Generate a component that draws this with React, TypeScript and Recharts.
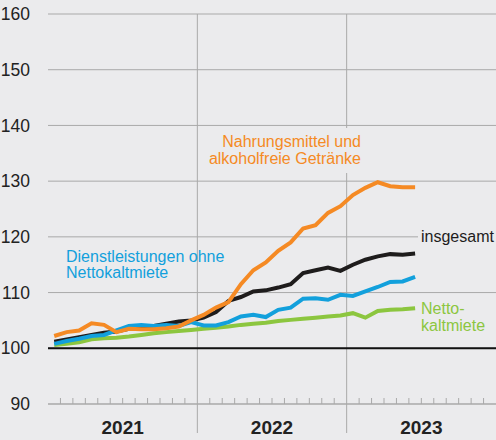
import { CartesianGrid, Line, LineChart, ReferenceLine, XAxis, YAxis } from "recharts";

const YEARS = ["2021", "2022", "2023"];
const Y_TICKS = [90, 100, 110, 120, 130, 140, 150, 160];

// monthly index values, Jan 2021 .. Jun 2023
const FOOD = [102.2, 102.9, 103.2, 104.5, 104.2, 102.9, 103.5, 103.4, 103.4, 103.6, 103.9, 105.0, 106.0, 107.3, 108.3, 111.5, 114.0, 115.4, 117.5, 119.0, 121.5, 122.1, 124.3, 125.5, 127.5, 128.8, 129.8, 129.1, 128.9, 128.9];
const TOTAL = [101.2, 101.6, 102.0, 102.4, 102.8, 103.0, 103.5, 103.8, 104.0, 104.4, 104.8, 105.0, 105.5, 106.5, 108.5, 109.2, 110.2, 110.4, 110.9, 111.5, 113.5, 114.0, 114.5, 113.9, 115.0, 115.9, 116.5, 116.9, 116.8, 117.0];
const SERVICES = [100.8, 101.3, 101.7, 102.2, 102.4, 103.2, 104.0, 104.2, 104.0, 104.2, 104.0, 104.7, 104.1, 104.1, 104.7, 105.7, 106.0, 105.6, 106.9, 107.3, 108.9, 109.0, 108.7, 109.6, 109.4, 110.2, 111.0, 111.9, 112.0, 112.8];
const RENT = [100.6, 100.8, 101.1, 101.6, 101.8, 101.9, 102.1, 102.4, 102.7, 102.9, 103.1, 103.3, 103.5, 103.7, 103.9, 104.2, 104.4, 104.6, 104.9, 105.1, 105.3, 105.5, 105.7, 105.9, 106.3, 105.5, 106.7, 106.9, 107.0, 107.2];

const data = FOOD.map((v, i) => ({
  x: i + 0.5,
  food: v,
  total: TOTAL[i],
  services: SERVICES[i],
  rent: RENT[i],
}));

const monthTicks = Array.from({ length: 35 }, (_, i) => i + 1);

const BG = "#ebebed";
const GRID = "#a9a9a9";
const ORANGE = "#f58a24";
const BLACK = "#1e1c1c";
const BLUE = "#12a0dc";
const GREEN = "#8cc63f";
const FONT = "'Liberation Sans', Arial, sans-serif";

function MonthTick({ x, y, payload }: any) {
  const v = payload.value;
  if (v % 12 === 0) {
    return <line x1={x} x2={x} y1={y} y2={y + 29} stroke={GRID} />;
  }
  return (
    <g>
      <line x1={x} x2={x} y1={y} y2={y - 6} stroke={GRID} />
      {v % 12 === 6 && (
        <text x={x} y={y + 30} textAnchor="middle" fontSize={19} fontWeight="bold" fill="#222" fontFamily={FONT}>
          {YEARS[(v - 6) / 12]}
        </text>
      )}
    </g>
  );
}

export default function App() {
  return (
    <div style={{ position: "absolute", left: 0, top: 0, width: 496, height: 440, background: BG, fontFamily: FONT }}>
      <LineChart width={496} height={440} data={data} margin={{ top: 14, right: 0, bottom: 0, left: 0 }}>
        <CartesianGrid vertical={false} stroke={GRID} />
        <XAxis
          dataKey="x"
          type="number"
          domain={[0, 36]}
          ticks={monthTicks}
          interval={0}
          tick={<MonthTick />}
          tickLine={false}
          tickSize={0}
          tickMargin={0}
          height={36}
          axisLine={{ stroke: GRID }}
        />
        <YAxis
          domain={[90, 160]}
          ticks={Y_TICKS}
          width={48}
          axisLine={false}
          tickLine={false}
          tickMargin={12}
          tick={{ fontSize: 17.5, fill: "#222", fontFamily: FONT }}
        />
        <ReferenceLine x={12} stroke={GRID} />
        <ReferenceLine x={24} stroke={GRID} />
        <ReferenceLine y={100} stroke="#111" strokeWidth={2} />
        <Line dataKey="rent" stroke={GREEN} strokeWidth={4} dot={false} isAnimationActive={false} />
        <Line dataKey="total" stroke={BLACK} strokeWidth={4} dot={false} isAnimationActive={false} />
        <Line dataKey="services" stroke={BLUE} strokeWidth={4} dot={false} isAnimationActive={false} />
        <Line dataKey="food" stroke={ORANGE} strokeWidth={4} dot={false} isAnimationActive={false} />
      </LineChart>
      <svg width={496} height={440} style={{ position: "absolute", left: 0, top: 0, pointerEvents: "none" }}>
        <rect x={204} y={128} width={160} height={45} fill={BG} />
        <text textAnchor="end" fontSize={16} fill={ORANGE} fontFamily={FONT}>
          <tspan x={361} y={147}>Nahrungsmittel und</tspan>
          <tspan x={361} y={164}>alkoholfreie Getränke</tspan>
        </text>
        <rect x={418} y={228} width={78} height={18} fill={BG} />
        <text x={421} y={242} fontSize={16} fill={BLACK} fontFamily={FONT}>insgesamt</text>
        <text fontSize={16} fill={BLUE} fontFamily={FONT}>
          <tspan x={66} y={262}>Dienstleistungen ohne</tspan>
          <tspan x={66} y={278}>Nettokaltmiete</tspan>
        </text>
        <text fontSize={16} fill={GREEN} fontFamily={FONT}>
          <tspan x={421} y={314}>Netto-</tspan>
          <tspan x={421} y={331}>kaltmiete</tspan>
        </text>
      </svg>
    </div>
  );
}
